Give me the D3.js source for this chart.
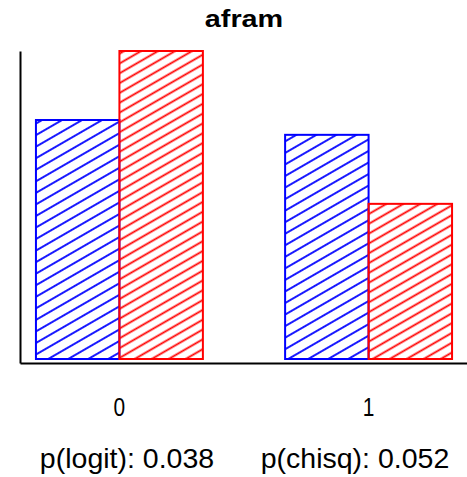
<!DOCTYPE html>
<html>
<head>
<meta charset="utf-8">
<script src="https://cdn.jsdelivr.net/npm/d3@7"></script>
<style>
  body { margin: 0; background: #fff; }
  svg { display: block; font-family: "Liberation Sans", Arial, sans-serif; }
</style>
</head>
<body>
<svg id="chart"></svg>
<script>
// afram levels on the x axis
const categories = ["0", "1"];
// share of each level within the series (blue / red)
const blueValues = [0.516, 0.484];
const redValues = [0.665, 0.335];
const pLabels = ["p(logit): 0.038", "p(chisq): 0.052"];
const title = "afram";

const width = 467, height = 477;
const svg = d3.select("#chart").attr("width", width).attr("height", height);

// hatch patterns
const defs = svg.append("defs");
function hatch(id, color, gap) {
  const p = defs.append("pattern")
    .attr("id", id)
    .attr("patternUnits", "userSpaceOnUse")
    .attr("width", gap).attr("height", gap)
    .attr("patternTransform", "rotate(-30)");
  p.append("line")
    .attr("x1", -2).attr("x2", gap + 2)
    .attr("y1", gap / 2).attr("y2", gap / 2)
    .attr("stroke", color).attr("stroke-width", 1.8);
}
hatch("hatchBlue", "#0000ff", 10);
hatch("hatchRed", "#ff0000", 8.5);

const x = d3.scaleBand()
  .domain(categories)
  .range([20, 468])
  .paddingInner(0.33)
  .paddingOuter(0.064);

const y = d3.scaleLinear()
  .domain([0, d3.max(blueValues.concat(redValues))])
  .range([359, 51]);

const half = x.bandwidth() / 2;

// blue bars (left half of each group)
svg.selectAll("rect.blue")
  .data(blueValues)
  .enter().append("rect")
  .attr("class", "blue")
  .attr("x", (d, i) => x(categories[i]))
  .attr("y", d => y(d))
  .attr("width", half)
  .attr("height", d => y(0) - y(d))
  .attr("fill", "url(#hatchBlue)")
  .attr("stroke", "#0000ff")
  .attr("stroke-width", 2);

// red bars (right half)
svg.selectAll("rect.red")
  .data(redValues)
  .enter().append("rect")
  .attr("class", "red")
  .attr("x", (d, i) => x(categories[i]) + half)
  .attr("y", d => y(d))
  .attr("width", half)
  .attr("height", d => y(0) - y(d))
  .attr("fill", "url(#hatchRed)")
  .attr("stroke", "#ff0000")
  .attr("stroke-width", 2);

// axes - just the lines, labels drawn below
const yAxisScale = d3.scaleLinear().domain([0, 1]).range([363, 51]);
svg.append("g")
  .attr("transform", "translate(20,0)")
  .call(d3.axisLeft(yAxisScale).tickValues([]).tickSizeOuter(0))
  .call(g => g.select(".domain").attr("stroke-width", 2));

svg.append("g")
  .attr("transform", "translate(0,363)")
  .call(d3.axisBottom(x).tickSize(0).tickSizeOuter(0).tickFormat(""))
  .call(g => g.select(".domain").attr("stroke-width", 2));

// category labels under the groups
svg.selectAll("text.cat")
  .data(categories)
  .enter().append("text")
  .attr("class", "cat")
  .attr("x", d => x(d) + half)
  .attr("y", 416)
  .attr("text-anchor", "middle")
  .attr("font-size", 22)
  .attr("transform", d => "translate(" + (x(d) + half) + ",416) scale(0.95,1.15) translate(" + -(x(d) + half) + ",-416)")
  .text(d => d);

// p-value labels
const pX = [127, 355];
svg.selectAll("text.p")
  .data(pLabels)
  .enter().append("text")
  .attr("class", "p")
  .attr("x", (d, i) => pX[i])
  .attr("y", 468)
  .attr("text-anchor", "middle")
  .attr("font-size", 28.5)
  .text(d => d);

svg.append("text")
  .attr("transform", "translate(244,27) scale(1.2,1)")
  .attr("text-anchor", "middle")
  .attr("font-size", 24)
  .attr("font-weight", "bold")
  .text(title);
</script>
</body>
</html>
